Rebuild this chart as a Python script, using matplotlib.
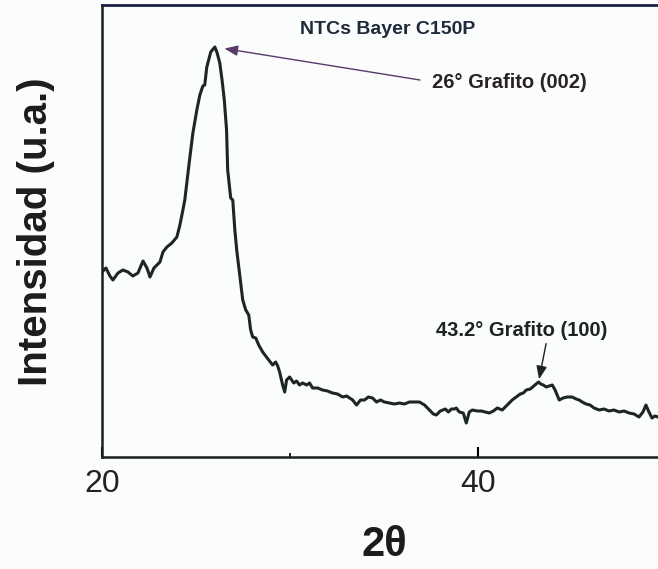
import matplotlib
matplotlib.use("Agg")
import matplotlib.pyplot as plt
from matplotlib.ticker import FixedLocator

plt.rcParams['font.family'] = ['Liberation Sans', 'DejaVu Sans']

# XRD pattern, NTCs Bayer C150P (2theta in degrees, intensity in arbitrary units)
two_theta = [
    20.00, 20.21, 20.42, 20.58, 20.85, 21.11, 21.38, 21.64, 21.91, 22.18,
    22.39, 22.55, 22.76, 22.92, 23.08, 23.24, 23.45, 23.71, 23.98, 24.14,
    24.30, 24.40, 24.62, 24.83, 25.04, 25.20, 25.36, 25.46, 25.57, 25.78,
    26.00, 26.12, 26.26, 26.38, 26.50, 26.62, 26.68, 26.84, 26.95, 27.06,
    27.16, 27.32, 27.48, 27.64, 27.80, 27.90, 28.01, 28.17, 28.33, 28.54,
    28.70, 28.86, 29.07, 29.23, 29.34, 29.44, 29.60, 29.71, 29.81, 29.97,
    30.19, 30.34, 30.50, 30.66, 30.88, 31.03, 31.19, 31.46, 31.72, 31.99,
    32.25, 32.52, 32.79, 33.00, 33.16, 33.32, 33.53, 33.74, 33.95, 34.16,
    34.38, 34.59, 34.80, 35.01, 35.28, 35.54, 35.81, 36.07, 36.34, 36.60,
    36.87, 37.14, 37.40, 37.61, 37.77, 37.98, 38.25, 38.41, 38.57, 38.73,
    38.83, 38.99, 39.20, 39.36, 39.52, 39.68, 39.95, 40.16, 40.37, 40.58,
    40.80, 41.01, 41.27, 41.43, 41.64, 41.80, 42.02, 42.23, 42.39, 42.55,
    42.76, 42.95, 43.20, 43.32, 43.45, 43.61, 43.77, 43.93, 44.08, 44.30,
    44.51, 44.72, 44.99, 45.20, 45.36, 45.52, 45.73, 45.94, 46.15, 46.42,
    46.68, 46.95, 47.21, 47.48, 47.75, 48.01, 48.28, 48.54, 48.75, 48.91,
    49.07, 49.23, 49.39, 49.55,
]
intensity = [
    185, 189, 181, 177, 184, 187, 185, 181, 184, 196,
    189, 180, 189, 192, 195, 205, 210, 214, 220, 232,
    247, 257, 292, 324, 347, 362, 371, 372, 390, 405,
    410, 404, 394, 377, 357, 327, 287, 259, 257, 227,
    207, 182, 157, 147, 142, 127, 120, 119, 112, 105,
    101, 97, 92, 95, 91, 85, 72, 65, 77, 80,
    74, 76, 72, 74, 72, 74, 69, 69, 67, 66,
    64, 63, 60, 61, 59, 57, 52, 57, 57, 60,
    59, 55, 57, 55, 54, 53, 54, 53, 55, 55,
    55, 52, 47, 43, 42, 46, 48, 45, 48, 48,
    49, 45, 44, 34, 45, 47, 46, 46, 45, 44,
    46, 49, 47, 50, 54, 57, 60, 63, 64, 67,
    68, 71, 75, 73, 72, 70, 71, 72, 67, 57,
    59, 60, 60, 58, 57, 55, 53, 52, 49, 47,
    48, 46, 47, 45, 46, 44, 43, 40, 45, 52,
    45, 39, 41, 40,
]

peaks = [26.0, 43.2]
peak_labels = ["26° Grafito (002)", "43.2° Grafito (100)"]

ink = "#1c2622"
bg = "#fbfdfd"

fig = plt.figure(figsize=(6.58, 5.69), dpi=100, facecolor=bg)
ax = fig.add_axes([102 / 658, 1 - 457 / 569, 1 - 102 / 658, 452 / 569])
ax.set_facecolor(bg)

ax.plot(two_theta, intensity, color=ink, lw=2.2, solid_joinstyle='round')

ax.set_xlim(20, 49.55)
ax.set_ylim(0, 452)

for side in ['left', 'bottom']:
    ax.spines[side].set_linewidth(1.8)
    ax.spines[side].set_color('#1a1f1f')
ax.spines['top'].set_linewidth(2.0)
ax.spines['top'].set_color('#1b2240')
ax.spines['right'].set_visible(False)

ax.xaxis.set_major_locator(FixedLocator([20, 40]))
ax.xaxis.set_minor_locator(FixedLocator([30]))
ax.tick_params(axis='x', which='major', direction='in', length=7, width=1.5,
               pad=9, labelsize=23, labelcolor='#222222', top=False)
ax.tick_params(axis='x', which='minor', direction='in', length=3, width=1.2, top=False)
ax.tick_params(axis='y', left=False, right=False, labelleft=False)

# peak annotations, pointing at the peaks in the data
pk_i = [intensity[two_theta.index(p)] for p in peaks]

ax.annotate(peak_labels[0], xy=(peaks[0], pk_i[0]), xytext=(37.56, 375),
            ha='left', va='center', fontsize=14.5, fontweight='bold', color='#2a2228',
            arrowprops=dict(arrowstyle='-|>,head_length=0.55,head_width=0.22',
                            color='#5a3a6a', lw=1.0, relpos=(0, 0.5),
                            shrinkA=7, shrinkB=7))
ax.annotate(peak_labels[1], xy=(peaks[1], pk_i[1]), xytext=(42.28, 127),
            ha='center', va='center', fontsize=14.5, fontweight='bold', color='#1e2222',
            arrowprops=dict(arrowstyle='-|>,head_length=0.55,head_width=0.22',
                            color='#1e2222', lw=1.0, relpos=(0.65, 0),
                            shrinkA=1, shrinkB=2))

ax.text(35.17, 427, "NTCs Bayer C150P", ha='center', va='center',
        fontsize=14, fontweight='bold', color='#1f2a3a')

fig.text(36 / 658, 1 - 232 / 569, "Intensidad (u.a.)", rotation=90,
         ha='center', va='center', fontsize=29, fontweight='bold', color='#1c1c1c')
fig.text(384 / 658, 1 - 545 / 569, "2θ", ha='center', va='center',
         fontsize=30, fontweight='bold', color='#1c1c1c')

fig.savefig("out.png", dpi=100, facecolor=bg)
